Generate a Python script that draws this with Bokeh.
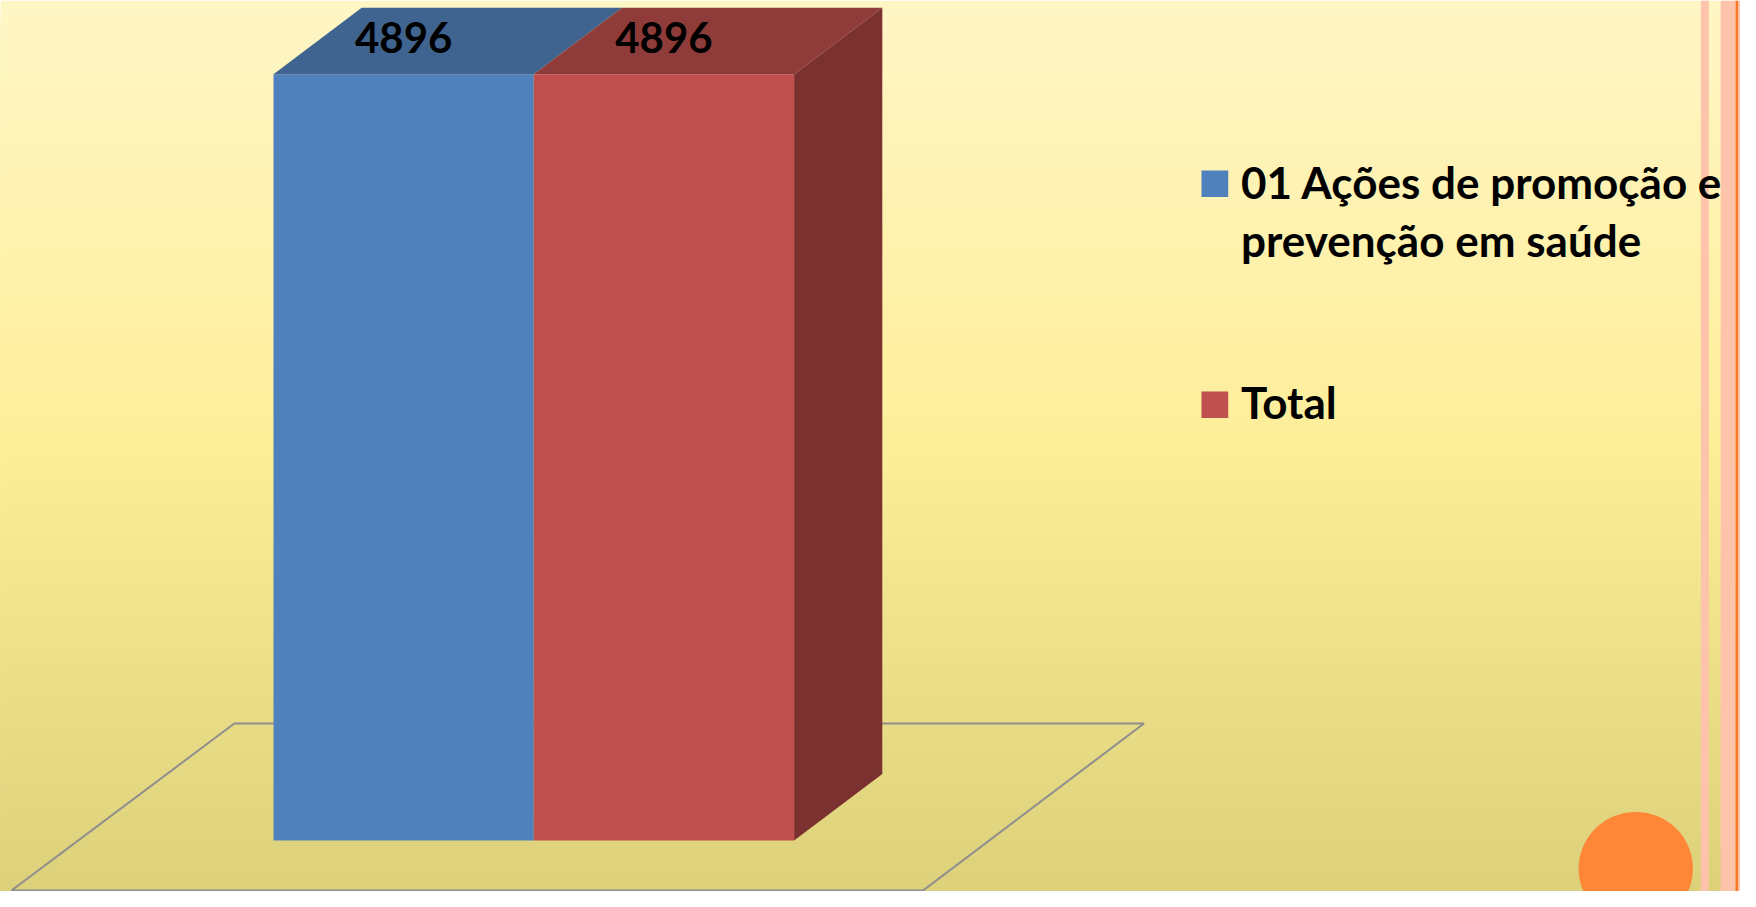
from bokeh.plotting import figure
from bokeh.embed import file_html
from bokeh.resources import INLINE
from bokeh.core.properties import value

# ---- data ----
series_names = ["01 Ações de promoção e\nprevenção em saúde", "Total"]
series_values = [4896, 4896]

# ---- colours ----
front_colors = ["#4F81BD", "#C0504D"]
top_colors = ["#3F648F", "#8F3B39"]
side_color = "#7B3130"
bg_stops = [(0, (255, 246, 198)), (450, (253, 238, 153)), (907, (220, 208, 122))]

# ---- layout, in reference-picture pixels ----
REF_W, REF_H = 1756, 907
BASE_PX = 855        # pixel row of value 0
TOP_PX = 75          # pixel row of the tallest value
BAR_LEFT = 275.5
BAR_W = 262.7
DX, DY_PX = 89, 67.5
UNITS = max(series_values) / (BASE_PX - TOP_PX)


def Y(px):
    return (BASE_PX - px) * UNITS


DY = DY_PX * UNITS

p = figure(width=1740, height=891, output_backend="svg", toolbar_location=None,
           x_range=(0, REF_W), y_range=(Y(REF_H), Y(0)), min_border=0,
           outline_line_color=None)
p.axis.visible = False
p.grid.visible = False

# background gradient
n = 180
for i in range(n):
    a = REF_H * i / n
    c = None
    for (y0, c0), (y1, c1) in zip(bg_stops, bg_stops[1:]):
        if y0 <= a <= y1:
            t = (a - y0) / (y1 - y0)
            c = tuple(int(round(u + (v - u) * t)) for u, v in zip(c0, c1))
            break
    p.quad(left=0, right=REF_W, top=Y(a), bottom=Y(REF_H), fill_color="#%02x%02x%02x" % c, line_color=None)

# slide decoration
p.quad(left=[1716, 1736, 1753.5], right=[1724, 1751, 1756], top=Y(0), bottom=Y(REF_H),
       fill_color="#FDC3AB", line_color=None)
p.quad(left=[1751], right=[1753.5], top=Y(0), bottom=Y(REF_H), fill_color="#F9782A", line_color=None)
p.ellipse(x=[1650.3], y=[Y(883.7)], width=115.4, height=115.4 * UNITS, fill_color="#FE8637", line_color=None)

# floor
p.line(x=[11, 236, 1154, 931, 11], y=[Y(906), Y(736), Y(736), Y(906), Y(906)],
       line_color="#8E8E8E", line_width=2)

# bars with 3-D faces
lefts = [BAR_LEFT + i * BAR_W for i in range(len(series_values))]
rights = [l + BAR_W for l in lefts]
p.vbar(x=[(l + r) / 2 for l, r in zip(lefts, rights)], width=BAR_W, top=series_values, bottom=0,
       fill_color=front_colors, line_color=None)
p.patches(xs=[[l, l + DX, r + DX, r] for l, r in zip(lefts, rights)],
          ys=[[v, v + DY, v + DY, v] for v in series_values],
          fill_color=top_colors, line_color=None)
p.patch(x=[rights[-1], rights[-1] + DX, rights[-1] + DX, rights[-1]],
        y=[0, DY, series_values[-1] + DY, series_values[-1]],
        fill_color=side_color, line_color=None)

# data labels
p.text(x=[(l + r) / 2 for l, r in zip(lefts, rights)], y=[v + DY * 0.56 for v in series_values],
       text=[str(v) for v in series_values], text_font=value("Lato"), text_font_style="bold",
       text_font_size="42px", text_align="center", text_baseline="middle", text_color="black")

# legend
SW_X, SW_SIZE, TXT_X = 1212, 27, 1252
swatch_tops = [173, 398]
text_rows = [[185, 244], [409]]
p.quad(left=SW_X, right=SW_X + SW_SIZE, top=[Y(t) for t in swatch_tops],
       bottom=[Y(t + SW_SIZE) for t in swatch_tops], fill_color=front_colors, line_color=None)
for name, rows in zip(series_names, text_rows):
    for line, row in zip(name.split("\n"), rows):
        p.text(x=[TXT_X], y=[Y(row)], text=[line], text_font=value("Lato"), text_font_style="bold",
               text_font_size="44px", text_align="left", text_baseline="alphabetic", text_color="black")

open("out.html", "w").write(file_html(p, INLINE))
